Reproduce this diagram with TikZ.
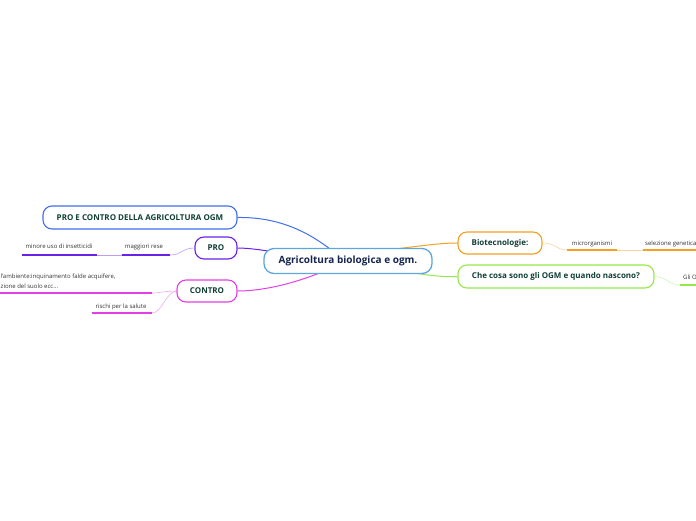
\documentclass[tikz,border=0pt]{standalone}
\usepackage{fontspec}
\setmainfont{Open Sans}
\definecolor{cblue}{HTML}{3F6FF0}
\definecolor{cpurple}{HTML}{6A22E8}
\definecolor{cmag}{HTML}{E43FE4}
\definecolor{corange}{HTML}{F5A020}
\definecolor{cgreen}{HTML}{96E84A}
\definecolor{ccentral}{HTML}{5FA6DC}
\definecolor{tgreen}{HTML}{0F3F35}
\definecolor{tnavy}{HTML}{16254F}
\definecolor{tleaf}{HTML}{333333}
\begin{document}
\begin{tikzpicture}[x=1pt,y=-1pt,
  topic/.style={draw,line width=1.1pt,rounded corners=9pt,fill=white,font=\fontsize{8}{9}\selectfont\bfseries,text=tgreen,inner sep=0pt,anchor=center},
  leaf/.style={font=\fontsize{6}{7}\selectfont,text=tleaf,inner sep=0pt},
  uline/.style={line width=1.6pt},
  conn/.style={line width=1pt}]
\useasboundingbox (0,0) rectangle (696,520);
% connectors from central (drawn first)
\coordinate (cA) at (330,249);
\coordinate (cB) at (268,251);
\coordinate (cC) at (322,272);
\coordinate (cD) at (395,249);
\coordinate (cE) at (410,272);
% topic nodes
\node[topic,draw=cblue,minimum width=194pt,minimum height=23pt] (pc) at (140,217.5) {PRO E CONTRO DELLA AGRICOLTURA OGM};
\node[topic,draw=cpurple,minimum width=42pt,minimum height=22pt] (pro) at (216,248) {PRO};
\node[topic,draw=cmag,minimum width=60pt,minimum height=22pt] (contro) at (207,291) {CONTRO};
\node[topic,draw=corange,minimum width=84pt,minimum height=22pt] (bio) at (500,243) {Biotecnologie:};
\node[topic,draw=cgreen,minimum width=196pt,minimum height=23pt] (che) at (556,276.5) {Che cosa sono gli OGM e quando nascono?};
\draw[conn,cblue] (cA) .. controls (300,226) and (270,217) .. (pc.east);
\draw[conn,cpurple] (cB) .. controls (255,249) and (245,248) .. (pro.east);
\draw[conn,cmag] (cC) .. controls (290,285) and (260,291) .. (contro.east);
\draw[conn,corange] (cD) .. controls (420,246) and (440,243) .. (bio.west);
\draw[conn,cgreen] (cE) .. controls (430,276) and (445,277) .. (che.west);
% central node
\node[draw=ccentral,line width=1.3pt,rounded corners=10pt,fill=white,minimum width=168pt,minimum height=25pt,inner sep=0pt,font=\fontsize{10}{12}\selectfont\bfseries,text=tnavy] (cen) at (348,261) {Agricoltura biologica e ogm.};
% PRO leaves
\coordinate (mrL) at (122,255); \coordinate (mrR) at (170,255);
\coordinate (miL) at (22,255); \coordinate (miR) at (97,255);
\draw[uline,cpurple] (mrL) -- (mrR);
\draw[uline,cpurple] (miL) -- (miR);
\node[leaf,anchor=base] (mrT) at (144,248.5) {maggiori rese};
\node[leaf,anchor=base] (miT) at (59,248.5) {minore uso di insetticidi};
\draw[line width=0.6pt,cpurple!45] (pro.west) .. controls (182,248) and (182,255) .. (mrR);
\draw[line width=0.6pt,cpurple!45] (mrL) -- (miR);
% CONTRO leaves
\coordinate (amL) at (0,293); \coordinate (amR) at (152,293);
\coordinate (rsL) at (92,313); \coordinate (rsR) at (152,313);
\draw[uline,cmag] (amL) -- (amR);
\draw[uline,cmag] (rsL) -- (rsR);
\node[leaf,anchor=base west] (amT1) at (0.5,278.5) {l'ambiente:inquinamento falde acquifere,};
\node[leaf,anchor=base west] (amT2) at (0.5,288.5) {zione del suolo ecc...};
\node[leaf,anchor=base] (rsT) at (121,308.5) {rischi per la salute};
\draw[line width=0.6pt,cmag!45] (contro.west) .. controls (165,291) and (160,293) .. (amR);
\draw[line width=0.6pt,cmag!45] (contro.west) .. controls (165,293) and (162,313) .. (rsR);
% Biotecnologie leaves
\coordinate (miL2) at (567,250); \coordinate (miR2) at (617,250);
\coordinate (sgL) at (643,250); \coordinate (sgR) at (710,250);
\draw[uline,corange] (miL2) -- (miR2);
\draw[uline,corange] (sgL) -- (sgR);
\node[leaf,anchor=base] (miT2) at (592,245.5) {microrganismi};
\node[leaf,anchor=base west] (sgT) at (645,245.5) {selezione genetica};
\draw[line width=0.6pt,corange!45] (bio.east) .. controls (556,243) and (556,250) .. (miL2);
\draw[line width=0.6pt,corange!45] (miR2) -- (sgL);
% Che cosa leaf
\coordinate (goL) at (680,285); \coordinate (goR) at (720,285);
\draw[uline,cgreen] (goL) -- (goR);
\node[leaf,anchor=base west] (goT) at (683,279.5) {Gli O};
\draw[line width=0.6pt,cgreen!45] (che.east) .. controls (668,277) and (668,285) .. (goL);
\end{tikzpicture}
\end{document}
